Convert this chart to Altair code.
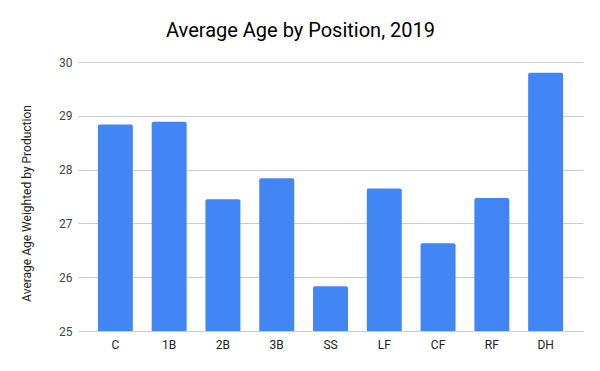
import altair as alt
import pandas as pd

positions = ["C", "1B", "2B", "3B", "SS", "LF", "CF", "RF", "DH"]
avg_age = [28.84, 28.89, 27.45, 27.84, 25.83, 27.65, 26.63, 27.47, 29.80]
y_ticks = [25, 26, 27, 28, 29, 30]

df = pd.DataFrame({"Position": positions, "Age": avg_age})

FONT = "Roboto"

chart = (
    alt.Chart(df)
    .mark_bar(color="#4285F4", cornerRadiusTopLeft=2, cornerRadiusTopRight=2)
    .encode(
        x=alt.X(
            "Position:N",
            sort=positions,
            title=None,
            scale=alt.Scale(paddingInner=0.35, paddingOuter=0.37),
            axis=alt.Axis(
                labelAngle=0,
                ticks=False,
                domain=False,
                grid=False,
                labelPadding=8,
                labelFont=FONT,
                labelFontSize=12,
                labelColor="#222222",
            ),
        ),
        y=alt.Y(
            "Age:Q",
            title="Average Age Weighted by Production",
            scale=alt.Scale(domain=[25, 30], zero=False, nice=False),
            axis=alt.Axis(
                values=y_ticks,
                ticks=False,
                domain=False,
                labelPadding=6,
                labelFont=FONT,
                labelFontSize=12,
                labelColor="#444444",
                titleFont=FONT,
                titleFontSize=12,
                titleFontWeight="normal",
                titleColor="#222222",
                titlePadding=25,
                titleY=141,
                gridColor="#cccccc",
                gridWidth=1,
            ),
        ),
        y2=alt.datum(25),
    )
    .properties(
        width=505,
        height=269,
        title=alt.TitleParams(
            "Average Age by Position, 2019",
            font=FONT,
            fontSize=20,
            fontWeight="normal",
            color="#000000",
            anchor="middle",
            dx=-30,
            offset=15,
        ),
        autosize=alt.AutoSizeParams(type="none"),
        padding={"left": 70, "top": 54, "right": 9, "bottom": 32},
    )
    .configure_view(stroke=None)
)

chart.save("out.html", embed_options={"renderer": "svg", "actions": False})
